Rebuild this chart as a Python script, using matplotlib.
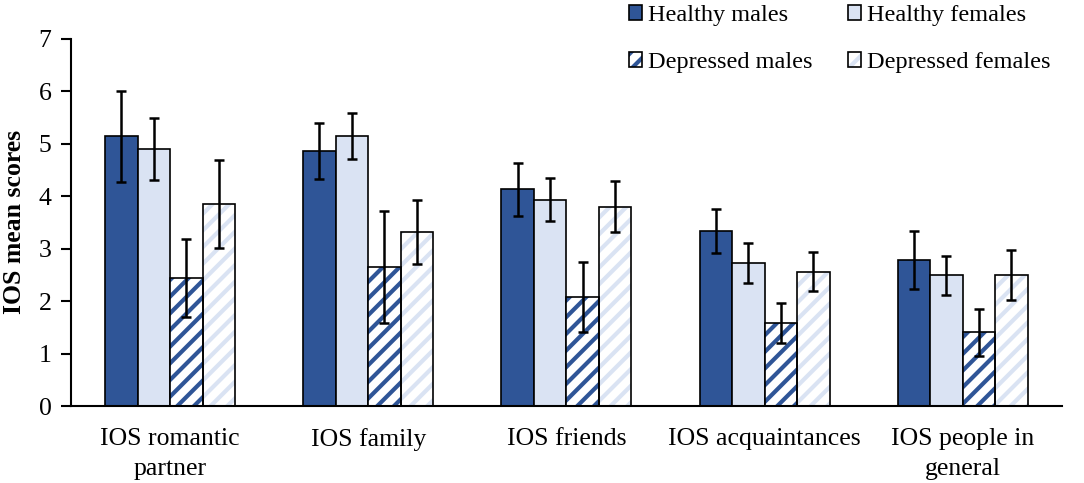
import numpy as np
import matplotlib.pyplot as plt
from matplotlib.patches import Patch

plt.rcParams['font.family'] = ['Liberation Serif', 'DejaVu Serif']
plt.rcParams['hatch.linewidth'] = 3.0

categories = ["IOS romantic\npartner", "IOS family", "IOS friends",
              "IOS acquaintances", "IOS people in\ngeneral"]
series = ["Healthy males", "Healthy females", "Depressed males", "Depressed females"]

healthy_males = [5.14, 4.86, 4.13, 3.33, 2.79]
healthy_females = [4.90, 5.14, 3.93, 2.72, 2.49]
depressed_males = [2.44, 2.65, 2.08, 1.58, 1.41]
depressed_females = [3.85, 3.31, 3.80, 2.56, 2.50]

err_healthy_males = [0.87, 0.54, 0.51, 0.42, 0.55]
err_healthy_females = [0.59, 0.44, 0.41, 0.38, 0.37]
err_depressed_males = [0.74, 1.06, 0.66, 0.38, 0.45]
err_depressed_females = [0.83, 0.61, 0.48, 0.37, 0.47]

dark = "#2F5597"
light = "#DAE3F3"

values = [healthy_males, healthy_females, depressed_males, depressed_females]
errors = [err_healthy_males, err_healthy_females, err_depressed_males, err_depressed_females]
faces = [dark, light, "white", "white"]
hatch_cols = [None, None, dark, light]
hatches = [None, None, "//", "//"]

fig = plt.figure(figsize=(10.84, 4.83), dpi=100)
ax = fig.add_axes([0.0655, 0.159, 0.914, 0.761])

x = np.arange(len(categories))
w = 0.164
handles = []
for i in range(4):
    pos = x + (i - 1.5) * w
    if hatches[i]:
        ax.bar(pos, values[i], w, color="white", edgecolor=hatch_cols[i],
               hatch=hatches[i], linewidth=0, zorder=2)
        ax.bar(pos, values[i], w, fill=False, edgecolor="black", linewidth=1.2, zorder=3)
    else:
        ax.bar(pos, values[i], w, color=faces[i], edgecolor="black", linewidth=1.2, zorder=2)
    ax.errorbar(pos, values[i], yerr=errors[i], fmt="none", ecolor="black",
                elinewidth=1.8, capsize=3.8, capthick=1.8, zorder=4)

for i in range(4):
    if hatches[i]:
        h = Patch(facecolor="white", edgecolor=hatch_cols[i], hatch=hatches[i], linewidth=0)
        h2 = Patch(fill=False, edgecolor="black", linewidth=1.2)
        handles.append((h, h2))
    else:
        handles.append(Patch(facecolor=faces[i], edgecolor="black", linewidth=1.2))

order = [0, 2, 1, 3]
fig.legend([handles[k] for k in order], [series[k] for k in order], ncol=2,
           loc="upper right", bbox_to_anchor=(0.985, 1.025), frameon=False,
           fontsize=17.5, handlelength=0.55, handleheight=0.55, handletextpad=0.25,
           columnspacing=1.45, labelspacing=1.08, borderaxespad=0.3)

ax.set_xlim(-0.5, 4.5)
ax.set_ylim(0, 7)
ax.set_yticks(range(8))
ax.set_xticks(x)
ax.set_xticklabels(categories, fontsize=18.5, linespacing=1.45)
ax.tick_params(axis="y", labelsize=18.5, length=7, width=1.5, direction="out", pad=7)
ax.tick_params(axis="x", length=0, pad=16)
ax.set_ylabel("IOS mean scores", fontsize=18.5, fontweight="bold", labelpad=9)
for s in ["top", "right"]:
    ax.spines[s].set_visible(False)
ax.spines["left"].set_linewidth(1.5)
ax.spines["bottom"].set_linewidth(1.5)

fig.savefig("out.png", dpi=100)
